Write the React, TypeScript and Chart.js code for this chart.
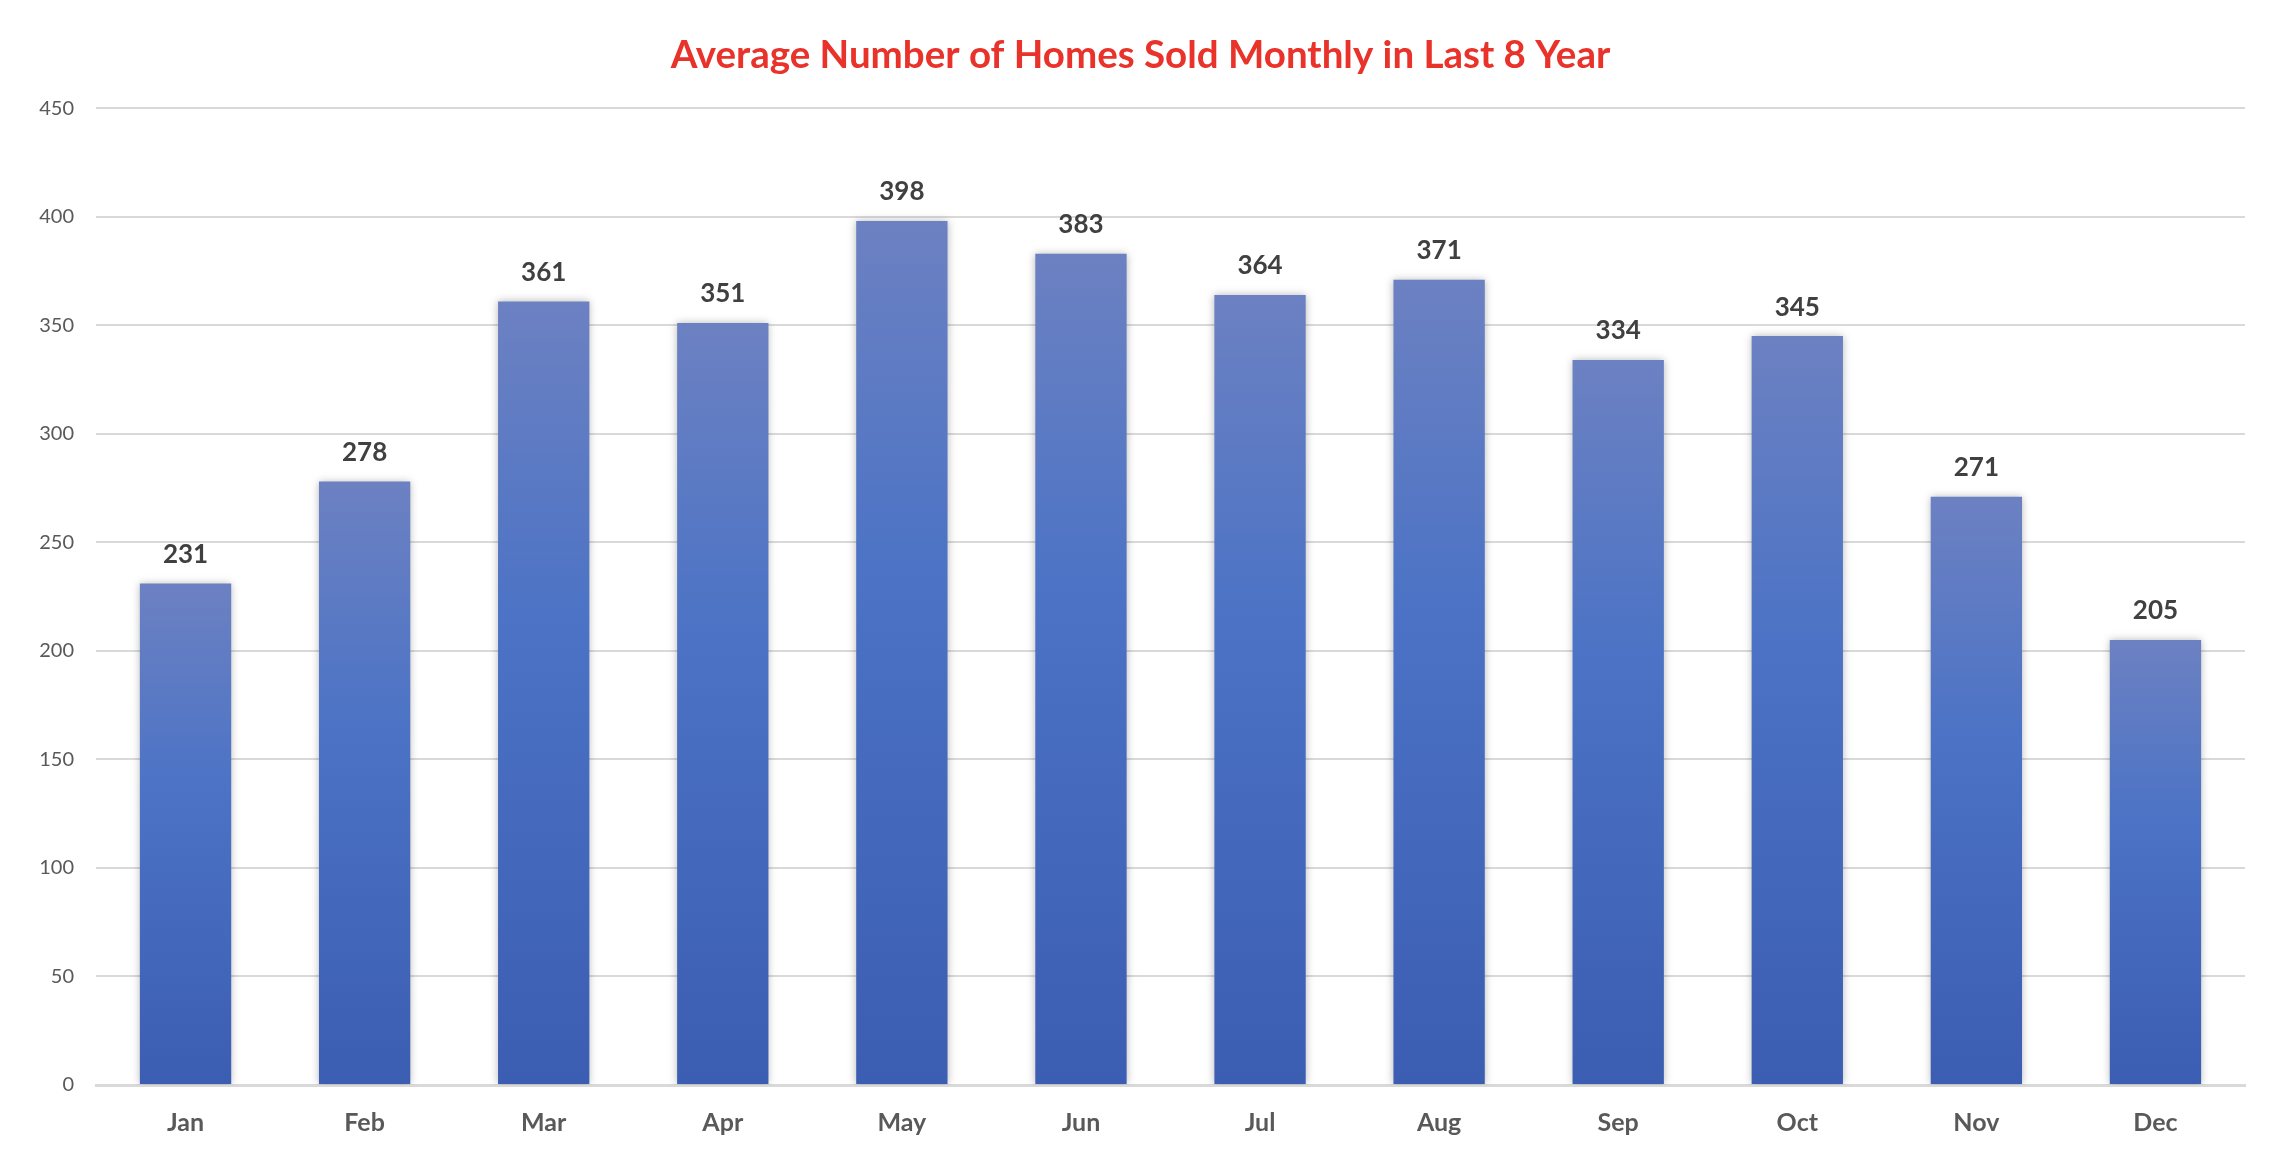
import { useEffect, useRef } from 'react';
import { Chart, registerables } from 'chart.js';
import type { Plugin, ScriptableContext } from 'chart.js';

Chart.register(...registerables);

const months = ['Jan', 'Feb', 'Mar', 'Apr', 'May', 'Jun', 'Jul', 'Aug', 'Sep', 'Oct', 'Nov', 'Dec'];
const homesSold = [231, 278, 361, 351, 398, 383, 364, 371, 334, 345, 271, 205];
const yTicks = [0, 50, 100, 150, 200, 250, 300, 350, 400, 450];
const title = 'Average Number of Homes Sold Monthly in Last 8 Year';

const FONT = 'Lato, "Open Sans", sans-serif';

// soft shadow under the bars, like the spreadsheet original
const barShadow: Plugin<'bar'> = {
  id: 'barShadow',
  beforeDatasetsDraw: chart => {
    const c = chart.ctx;
    c.save();
    c.shadowColor = 'rgba(0,0,0,0.28)';
    c.shadowBlur = 8;
    c.shadowOffsetX = 0;
    c.shadowOffsetY = 0;
  },
  afterDatasetsDraw: chart => { chart.ctx.restore(); },
};

// value printed above every bar
const valueLabels: Plugin<'bar'> = {
  id: 'valueLabels',
  afterDraw: chart => {
    const c = chart.ctx;
    const meta = chart.getDatasetMeta(0);
    c.save();
    c.font = `bold 26px ${FONT}`;
    c.fillStyle = '#404040';
    c.textAlign = 'center';
    c.textBaseline = 'middle';
    meta.data.forEach((el, i) => {
      c.fillText(String(homesSold[i]), el.x, el.y - 29);
    });
    c.restore();
  },
};

function barGradient(ctx: ScriptableContext<'bar'>) {
  const chart = ctx.chart;
  const y = chart.scales.y;
  if (!chart.chartArea || !y) return '#4a72c4';
  const top = y.getPixelForValue(ctx.raw as number);
  const base = y.getPixelForValue(0);
  if (!isFinite(top) || !isFinite(base) || top === base) return '#4a72c4';
  const g = chart.ctx.createLinearGradient(0, top, 0, base);
  g.addColorStop(0, '#6c81c2');
  g.addColorStop(0.4, '#4c73c5');
  g.addColorStop(1, '#3b5db2');
  return g;
}

export default function App() {
  const canvasRef = useRef<HTMLCanvasElement>(null);

  useEffect(() => {
    if (!canvasRef.current) return;
    const chart = new Chart(canvasRef.current, {
      type: 'bar',
      data: {
        labels: months,
        datasets: [{
          data: homesSold,
          backgroundColor: barGradient,
          borderWidth: 0,
          categoryPercentage: 1,
          barPercentage: 0.51,
        }],
      },
      options: {
        responsive: true,
        maintainAspectRatio: false,
        animation: false,
        layout: { padding: { left: 36, right: 42, top: 0, bottom: 11 } },
        plugins: {
          legend: { display: false },
          tooltip: { enabled: false },
          title: {
            display: true,
            text: title,
            color: '#e8322a',
            font: { family: FONT, size: 38.5, weight: 'bold' },
            padding: { top: 32, bottom: 30 },
          },
        },
        scales: {
          x: {
            grid: { display: false },
            border: { color: '#d9d9d9', width: 3 },
            ticks: {
              color: '#595959',
              font: { family: FONT, size: 25, weight: 'bold' },
              padding: 15,
            },
          },
          y: {
            min: 0,
            max: 450,
            afterBuildTicks: scale => { scale.ticks = yTicks.map(v => ({ value: v })); },
            grid: { color: '#d9d9d9', lineWidth: 2, drawTicks: false },
            border: { display: false },
            ticks: {
              color: '#595959',
              font: { family: FONT, size: 20 },
              padding: 22,
            },
            afterFit: scale => { scale.width = 60; },
          },
        },
      },
      plugins: [barShadow, valueLabels],
    });
    return () => chart.destroy();
  }, []);

  return (
    <div style={{ position: 'fixed', inset: 0, background: '#fff' }}>
      <canvas ref={canvasRef} />
    </div>
  );
}
